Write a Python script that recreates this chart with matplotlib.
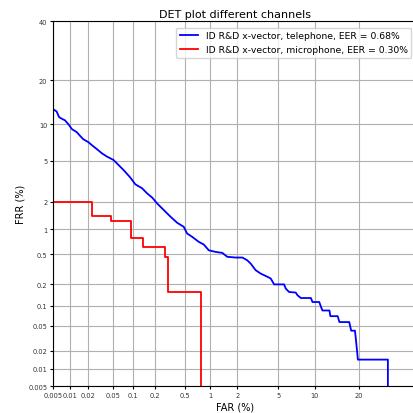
import math
import numpy as np
import matplotlib
matplotlib.use("Agg")
import matplotlib.pyplot as plt
from matplotlib.ticker import FixedLocator, FixedFormatter, NullLocator
from statistics import NormalDist

# Du lieu doc tu hinh (FAR %, FRR %)
far_tel = [0.005, 0.0058, 0.0064, 0.0071, 0.0081, 0.0093, 0.0107, 0.0129, 0.0147,
           0.0167, 0.0202, 0.0230, 0.0277, 0.0333, 0.0398, 0.0505, 0.060, 0.0717,
           0.090, 0.107, 0.134, 0.157, 0.186, 0.216, 0.266, 0.326, 0.398, 0.483,
           0.532, 0.615, 0.739, 0.848, 0.969, 1.16, 1.38, 1.56, 1.92, 2.26, 2.53,
           2.74, 3.07, 3.43, 3.97, 4.27, 4.58, 5.62, 5.81, 6.2, 7.06, 7.3, 7.77,
           9.33, 9.6, 10.8, 11.1, 11.4, 12.8, 13.0, 14.6, 15.0, 17.4, 17.9, 18.9,
           19.2, 19.7, 29.0, 29.0]
frr_tel = [12.9, 12.4, 11.3, 11.0, 10.7, 10.0, 9.16, 8.68, 8.1, 7.6, 7.2, 6.8,
           6.3, 5.8, 5.44, 5.07, 4.58, 4.11, 3.5, 3.0, 2.74, 2.44, 2.2, 1.92,
           1.63, 1.38, 1.18, 1.06, 0.887, 0.81, 0.706, 0.655, 0.557, 0.532, 0.517,
           0.462, 0.452, 0.452, 0.417, 0.378, 0.31, 0.28, 0.254, 0.24, 0.20, 0.20,
           0.175, 0.157, 0.154, 0.141, 0.129, 0.129, 0.113, 0.113, 0.097, 0.085,
           0.085, 0.070, 0.070, 0.057, 0.057, 0.042, 0.042, 0.029, 0.0143, 0.0143,
           0.0001]

far_mic = [0.001, 0.023, 0.046, 0.092, 0.139, 0.277, 0.30, 0.775]
frr_mic = [2.0, 1.40, 1.24, 0.78, 0.62, 0.465, 0.155, 0.0001]

eer_tel = 0.68
eer_mic = 0.30

ticks = [0.005, 0.01, 0.02, 0.05, 0.1, 0.2, 0.5, 1, 2, 5, 10, 20, 40]
tick_labels = ["0.005", "0.01", "0.02", "0.05", "0.1", "0.2", "0.5", "1", "2",
               "5", "10", "20", "40"]

# =========================
# THANG PROBIT
# =========================
_nd = NormalDist()


def _ppf1(p):
    if not math.isfinite(p):
        return float("nan")
    return _nd.inv_cdf(min(max(p, 1e-12), 1 - 1e-12))


def _cdf1(z):
    if not math.isfinite(z):
        return float("nan") if math.isnan(z) else (1.0 if z > 0 else 0.0)
    return 0.5 * (1 + math.erf(z / math.sqrt(2)))


_ppf = np.vectorize(_ppf1, otypes=[float])
_cdf = np.vectorize(_cdf1, otypes=[float])


def forward(x):
    return _ppf(np.asarray(x, dtype=float) / 100.0)


def inverse(z):
    return _cdf(np.asarray(z, dtype=float)) * 100.0


fig = plt.figure(figsize=(4.14, 4.14), dpi=100)
ax = fig.add_axes([53 / 414, 27 / 414, 365 / 414, 365 / 414])
ax.set_xscale("function", functions=(forward, inverse))
ax.set_yscale("function", functions=(forward, inverse))

ax.plot(far_tel, frr_tel, color="b", lw=1.3,
        label=f"ID R&D x-vector, telephone, EER = {eer_tel:.2f}%")
ax.plot(far_mic, frr_mic, color="r", lw=1.3, drawstyle="steps-post",
        label=f"ID R&D x-vector, microphone, EER = {eer_mic:.2f}%")

ax.set_xlim(0.005, 40)
ax.set_ylim(0.005, 40)

ax.xaxis.set_major_locator(FixedLocator(ticks[:-1]))
ax.xaxis.set_major_formatter(FixedFormatter(tick_labels[:-1]))
ax.yaxis.set_major_locator(FixedLocator(ticks))
ax.yaxis.set_major_formatter(FixedFormatter(tick_labels))
ax.xaxis.set_minor_locator(NullLocator())
ax.yaxis.set_minor_locator(NullLocator())
ax.tick_params(labelsize=4.8, length=2.5, width=0.8, pad=1.5, labelcolor="#333333")

ax.grid(True, color="#b0b0b0", lw=0.8)
ax.set_axisbelow(True)

ax.set_title("DET plot different channels", fontsize=8, pad=3)
ax.set_xlabel("FAR (%)", fontsize=7, labelpad=3)
ax.set_ylabel("FRR (%)", fontsize=7, labelpad=1.7)
ax.legend(loc="upper right", fontsize=6.7, borderaxespad=0.7)

fig.savefig("out.png", dpi=100)
